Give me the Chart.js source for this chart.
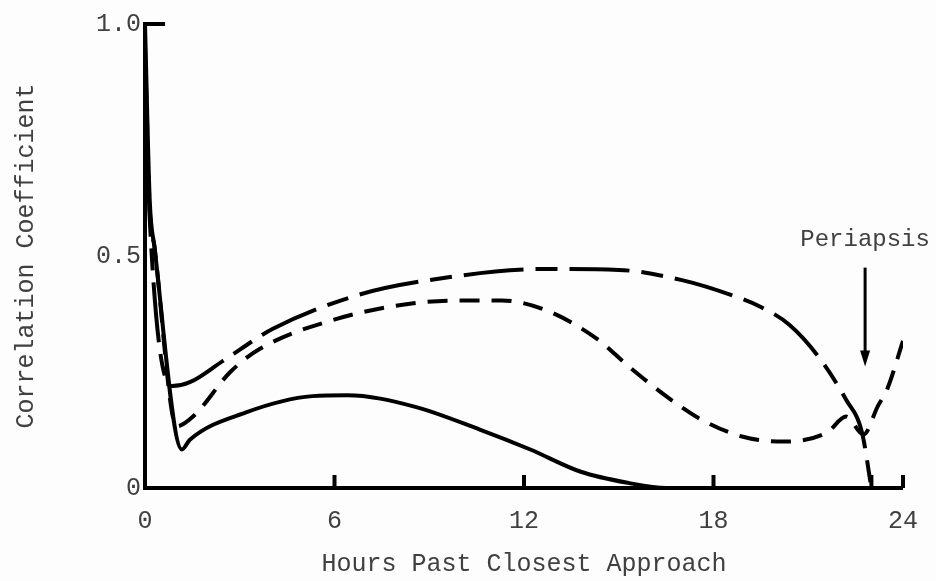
<!DOCTYPE html>
<html>
<head>
<meta charset="utf-8">
<script src="https://cdn.jsdelivr.net/npm/chart.js@4.4.1/dist/chart.umd.min.js"></script>
<style>
html, body { margin: 0; padding: 0; background: #fdfdfd; }
#wrap { width: 936px; height: 581px; }
</style>
</head>
<body>
<div id="wrap"><canvas id="chart"></canvas></div>
<script>
// tick values / labels
const xTickValues = [0, 6, 12, 18, 24];
const yTickValues = [0, 0.5, 1.0];
const yTickLabels = ['0', '0.5', '1.0'];
const xMarkHours = [6, 12, 18, 23, 24];   // small inward ticks on the x axis
const yMarkValues = [1.0];                 // inward tick on the y axis

// solid curve
const solidHours  = [0, 0.15, 0.3, 1.17, 1.42, 3.2, 5.3, 6.4, 8.5, 10.6, 12.2, 13.8, 15.3, 16.5, 17.5];
const solidValues = [1.0, 0.62, 0.52, 0.083, 0.104, 0.163, 0.198, 0.2, 0.176, 0.126, 0.083, 0.035, 0.011, 0, 0];

// short dashed curve
const shortHours  = [0, 0.15, 0.3, 1.0, 1.52, 2.7, 3.64, 6.1, 8.5, 10.1, 11.3, 12.7, 14.3, 15.3, 16.5, 17.6, 18.9, 20.2, 21.6, 22.2, 22.75, 23.2, 23.5, 24.0];
const shortValues = [0.95, 0.6, 0.52, 0.133, 0.154, 0.25, 0.3, 0.365, 0.398, 0.404, 0.404, 0.383, 0.322, 0.263, 0.198, 0.148, 0.111, 0.1, 0.12, 0.154, 0.115, 0.176, 0.213, 0.317];

// long dashed curve
const longHours  = [0, 0.15, 0.85, 1.42, 2.47, 4.05, 6.7, 9.0, 12.7, 15.0, 17.0, 18.6, 19.5, 20.4, 21.3, 22.2, 22.7, 23.0];
const longValues = [0.9, 0.58, 0.22, 0.228, 0.274, 0.343, 0.415, 0.448, 0.472, 0.47, 0.448, 0.415, 0.39, 0.352, 0.285, 0.19, 0.12, 0];

const periapsisHour = 22.8;
const periapsisLabel = 'Periapsis';

const FONT = 'Liberation Mono';
const TEXT = '#404040';

function points(hours, values) {
    return hours.map((h, i) => ({ x: h, y: values[i] }));
}

const annotations = {
    id: 'annotations',
    afterDatasetsDraw(chart) {
        const { ctx, scales: { x, y } } = chart;
        ctx.save();
        ctx.strokeStyle = '#000';
        ctx.fillStyle = '#000';
        ctx.lineWidth = 4;
        const y0 = y.getPixelForValue(0);
        xMarkHours.forEach(h => {
            const px = x.getPixelForValue(h);
            ctx.beginPath(); ctx.moveTo(px, y0); ctx.lineTo(px, y0 - 13); ctx.stroke();
        });
        const x0 = x.getPixelForValue(0);
        yMarkValues.forEach(v => {
            const py = y.getPixelForValue(v);
            ctx.beginPath(); ctx.moveTo(x0, py); ctx.lineTo(x0 + 20, py); ctx.stroke();
        });
        // periapsis arrow
        const ax = x.getPixelForValue(periapsisHour);
        const aTop = y.getPixelForValue(0.475);
        const aTip = y.getPixelForValue(0.262);
        ctx.lineWidth = 3;
        ctx.beginPath(); ctx.moveTo(ax, aTop); ctx.lineTo(ax, aTip - 10); ctx.stroke();
        ctx.beginPath();
        ctx.moveTo(ax - 5, aTip - 16); ctx.lineTo(ax + 5, aTip - 16); ctx.lineTo(ax, aTip);
        ctx.closePath(); ctx.fill();
        ctx.fillStyle = TEXT;
        ctx.font = `24px "${FONT}"`;
        ctx.textAlign = 'center';
        ctx.textBaseline = 'middle';
        ctx.fillText(periapsisLabel, ax, y.getPixelForValue(0.535));
        ctx.restore();
    }
};

const lineStyle = {
    borderColor: '#000',
    borderWidth: 4,
    pointRadius: 0,
    fill: false,
    cubicInterpolationMode: 'monotone',
    borderCapStyle: 'butt',
    borderJoinStyle: 'round'
};

new Chart(document.getElementById('chart'), {
    type: 'line',
    data: {
        datasets: [
            { ...lineStyle, label: 'solid', data: points(solidHours, solidValues) },
            { ...lineStyle, label: 'short dash', data: points(shortHours, shortValues), borderDash: [20, 12] },
            { ...lineStyle, label: 'long dash', data: points(longHours, longValues), borderDash: [60, 12, 22, 12] }
        ]
    },
    options: {
        responsive: true,
        maintainAspectRatio: false,
        animation: false,
        layout: { padding: { top: 24, right: 31, left: 0, bottom: 0 } },
        plugins: { legend: { display: false }, tooltip: { enabled: false } },
        scales: {
            x: {
                type: 'linear',
                min: 0,
                max: 24,
                afterBuildTicks: s => { s.ticks = xTickValues.map(v => ({ value: v })); },
                afterFit: s => { s.height = 93; },
                grid: { display: false, drawTicks: false },
                border: { display: true, color: '#000', width: 4 },
                ticks: { padding: 18, color: TEXT, font: { family: FONT, size: 25 }, maxRotation: 0 },
                title: {
                    display: true,
                    text: 'Hours Past Closest Approach',
                    color: TEXT,
                    font: { family: FONT, size: 25, lineHeight: 1 },
                    padding: { top: 0, bottom: 4 }
                }
            },
            y: {
                min: 0,
                max: 1.0,
                afterBuildTicks: s => { s.ticks = yTickValues.map(v => ({ value: v })); },
                afterFit: s => { s.width = 145; },
                grid: { display: false, drawTicks: false },
                border: { display: true, color: '#000', width: 4 },
                ticks: {
                    padding: 4,
                    color: TEXT,
                    font: { family: FONT, size: 25 },
                    callback: v => yTickLabels[yTickValues.indexOf(v)]
                },
                title: {
                    display: true,
                    text: 'Correlation Coefficient',
                    color: TEXT,
                    font: { family: FONT, size: 25, lineHeight: 1 },
                    padding: { top: 14, bottom: 0 }
                }
            }
        }
    },
    plugins: [annotations]
});
</script>
</body>
</html>
